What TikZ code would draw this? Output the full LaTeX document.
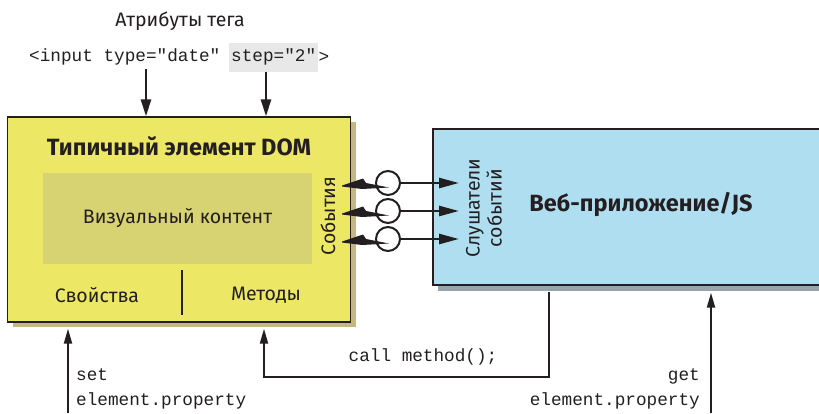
\documentclass[tikz,border=0pt]{standalone}
\usepackage{fontspec}
\setmainfont{Fira Sans}
\setmonofont{Liberation Mono}
\usetikzlibrary{arrows.meta,positioning,shadows}
\definecolor{domyellow}{RGB}{237,231,102}
\definecolor{domshade}{RGB}{196,184,130}
\definecolor{visolive}{RGB}{215,210,114}
\definecolor{appblue}{RGB}{176,222,241}
\definecolor{appshade}{RGB}{150,164,174}
\definecolor{hlgray}{RGB}{232,232,232}
\definecolor{ink}{RGB}{35,31,32}
\begin{document}
\begin{tikzpicture}[x=1pt,y=-1pt,ink,
    mono/.style={font=\ttfamily\fontsize{17.7}{20}\selectfont, inner sep=0pt},
    sans/.style={font=\fontsize{19.5}{22}\selectfont, inner sep=0pt},
    heading/.style={font=\bfseries\fontsize{23.5}{26}\selectfont, inner sep=0pt},
    bigarrow/.style={line width=2.6pt,-{Triangle[length=17pt,width=10pt]}},
    thinarrow/.style={line width=2pt,-{Triangle[length=15pt,width=8pt]}},
    dombox/.style={draw, line width=1.3pt, fill=domyellow, minimum width=343pt, minimum height=205pt, inner sep=0pt,
      general shadow={fill=domshade, shadow xshift=5pt, shadow yshift=-5pt}},
    appbox/.style={draw, line width=1.3pt, fill=appblue, minimum width=400pt, minimum height=156pt, inner sep=0pt,
      general shadow={fill=appshade, shadow xshift=5pt, shadow yshift=-6pt}},
    evt/.style={circle, draw, line width=2pt, minimum size=24pt, inner sep=0pt}]
  \useasboundingbox[fill=white] (0,0) rectangle (819,413);
  \clip (0,0) rectangle (819,413);

  % tag and attributes
  \node[sans] (attrs) at (180,21) {Атрибуты тега};
  \node[mono, anchor=west] (tagopen) at (29,57) {<input type="date"};
  \node[mono, anchor=west, fill=hlgray, inner xsep=2pt, minimum height=29pt] (stepattr) at (229,57) {step="2"};
  \node[mono, right=0pt of stepattr] (tagclose) {>};

  % boxes
  \node[dombox] (dom) at (179,219.5) {};
  \node[appbox] (app) at (633,207) {};
  \node[heading] (domtitle) at (179,146) {Типичный элемент DOM};
  \node[fill=visolive, minimum width=269pt, minimum height=91pt, inner sep=0pt] (visual) at (177.5,218.5) {};
  \node[sans] (visuallbl) at (visual) {Визуальный контент};
  \node[sans] (props) at (97,295) {Свойства};
  \node[sans] (methods) at (266,295) {Методы};
  \coordinate (divtop) at (182,270);
  \coordinate (divbot) at (182,315);
  \draw[line width=1.6pt] (divtop) -- (divbot);
  \node[sans, rotate=90] (events) at (328,216) {События};
  \node[sans, rotate=90, align=center] (listeners) at (484,208) {Слушатели\\событий};
  \node[heading] (apptitle) at (641,205) {Веб-приложение/JS};

  \coordinate (typeref) at (146,0);
  \coordinate (stepref) at (266,0);
  \draw[bigarrow] (typeref |- tagopen.south) ++(0,4) -- (typeref |- dom.north);
  \draw[bigarrow] (stepref |- stepattr.south) -- (stepref |- dom.north);

  % events
  \coordinate (lsn) at (459,0);
  \foreach \i/\y in {1/183,2/211,3/239} {
    \node[evt] (evt\i) at (388,\y) {};
    \fill (evt\i) ++(-46,2.5) -- ++(21,-7) -- ++(3,4.5) -- ++(23,4.5) -- ++(-27,1.5) -- ++(-20,-2.5) -- cycle;
    \draw[line width=2.6pt,-{Triangle[length=20pt,width=10pt]}] (evt\i.east) -- (evt\i.east -| lsn);
  }

  % properties and methods
  \coordinate (setfoot) at (68,413);
  \coordinate (getfoot) at (711,413);
  \coordinate (callref) at (549,377);
  \coordinate (methref) at (264,377);
  \draw[thinarrow, shorten >=6pt] (setfoot) -- (setfoot |- dom.south);
  \draw[thinarrow, shorten <=6pt, shorten >=6pt] (callref |- app.south) -- (callref) -- (methref) -- (methref |- dom.south);
  \draw[thinarrow, shorten >=7pt] (getfoot) -- (getfoot |- app.south);
  \node[mono, anchor=west] (setlbl) at (76,375) {set};
  \node[mono, anchor=west] (setprop) at (76,401) {element.property};
  \node[mono] (calllbl) at (423,357) {call method();};
  \node[mono, anchor=east] (getlbl) at (700,376) {get};
  \node[mono, anchor=east] (getprop) at (700,401) {element.property};
\end{tikzpicture}
\end{document}
